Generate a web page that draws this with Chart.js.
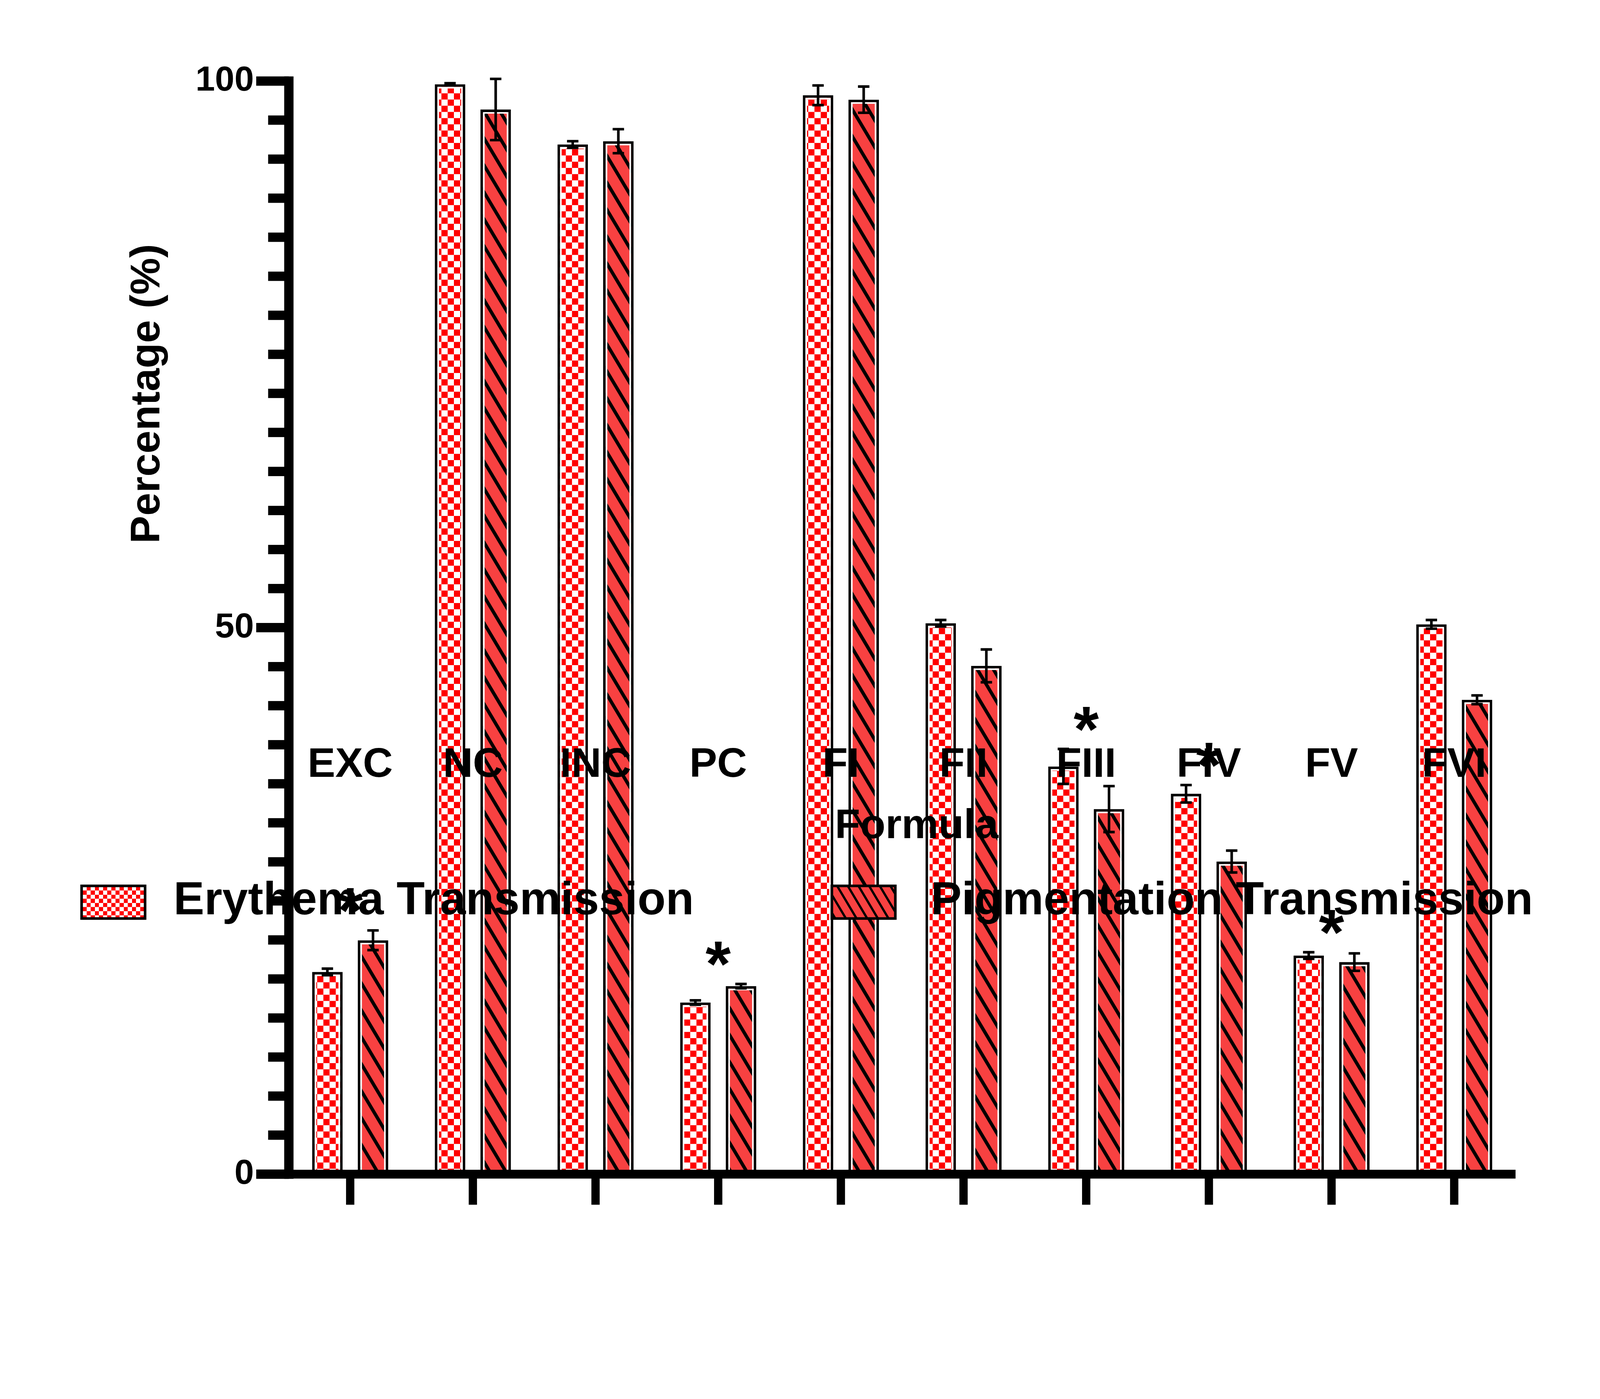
<!DOCTYPE html>
<html><head><meta charset="utf-8">
<script src="https://cdn.jsdelivr.net/npm/chart.js@4/dist/chart.umd.min.js"></script>
<style>html,body{margin:0;padding:0;background:#fff;overflow:hidden}</style>
</head><body><canvas id="c"></canvas>
<script>
const categories = ['EXC','NC','INC','PC','FI','FII','FIII','FIV','FV','FVI'];
const erythema = [18.5, 99.7, 94.2, 15.7, 98.7, 50.4, 37.3, 34.8, 20.0, 50.3];
const erythemaErr = [0.3, 0.1, 0.3, 0.2, 0.9, 0.3, 1.6, 0.8, 0.3, 0.4];
const pigmentation = [21.4, 97.4, 94.5, 17.2, 98.3, 46.5, 33.4, 28.6, 19.4, 43.4];
const pigmentationErr = [0.9, 2.8, 1.1, 0.2, 1.2, 1.5, 2.1, 1.0, 0.8, 0.4];
const significant = [true, false, false, true, false, false, true, true, true, false];
const yLabels = [0, 50, 100];
const seriesNames = ['Erythema Transmission', 'Pigmentation Transmission'];

const CW = window.innerWidth, CH = window.innerHeight;
const S = CW/6176;
const cv = document.getElementById('c');
cv.style.width = CW+'px'; cv.style.height = CH+'px';

const FONT = '"Liberation Sans", Arial, sans-serif';
function checker(){const c=document.createElement('canvas');c.width=48;c.height=48;const g=c.getContext('2d');
g.fillStyle='#fff';g.fillRect(0,0,48,48);g.fillStyle='#ff0000';g.fillRect(0,0,24,24);g.fillRect(24,24,24,24);
const p=g.createPattern(c,'repeat');p.setTransform(new DOMMatrix().scale(S));return p;}
function hatch(){const W=62,H=104;const c=document.createElement('canvas');c.width=W;c.height=H;const g=c.getContext('2d');
g.fillStyle='#f84141';g.fillRect(0,0,W,H);g.strokeStyle='#000';g.lineWidth=13;
for(const o of [-1,0,1]){g.beginPath();g.moveTo(o*W-W,-H);g.lineTo(o*W+2*W,2*H);g.stroke();}
const p=g.createPattern(c,'repeat');p.setTransform(new DOMMatrix().scale(S));return p;}
const P1=checker(), P2=hatch();

const deco={id:'deco',
afterDatasetsDraw(ch){const g=ch.ctx,ys=ch.scales.y,xs=ch.scales.x;g.save();g.scale(S,S);
 const Y=v=>ys.getPixelForValue(v)/S, X=i=>xs.getPixelForValue(i)/S;
 const aL=ch.chartArea.left/S, aR=ch.chartArea.right/S;
 [[0,erythemaErr],[1,pigmentationErr]].forEach(([di,err])=>{const m=ch.getDatasetMeta(di);
  m.data.forEach((b,i)=>{const w=b.width/S,bx=b.x/S,by=b.y/S,bb=b.base/S;g.strokeStyle='#fff';g.lineWidth=6;
   g.strokeRect(bx-w/2+13,by+13,w-26,bb-by-13);
   const v=ch.data.datasets[di].data[i],yt=Y(v+err[i]),yb=Y(v-err[i]);
   g.strokeStyle='#000';g.lineWidth=10;g.beginPath();g.moveTo(bx,yt);g.lineTo(bx,yb);
   g.moveTo(bx-22,yt);g.lineTo(bx+22,yt);g.moveTo(bx-22,yb);g.lineTo(bx+22,yb);g.stroke();});});
 g.fillStyle='#000';g.font='bold 250px '+FONT;g.textAlign='center';g.textBaseline='middle';
 significant.forEach((s,i)=>{if(!s)return;const top=Math.max(erythema[i]+erythemaErr[i],pigmentation[i]+pigmentationErr[i]);
  g.fillText('*',X(i),Y(top)-60);});
 const y0=Y(0),y100=Y(100);
 g.fillRect(aL-18,y100-18,36,y0-y100+36);
 g.fillRect(aL-95,y0-17,aR-aL+95,34);
 for(let k=0;k<=28;k++){const yy=Y(k*100/28);const major=(k%14===0);
  g.fillRect(aL-(major?126:80),yy-18,major?126:80,36);}
 g.font='bold 135px '+FONT;g.textAlign='right';g.textBaseline='middle';
 yLabels.forEach(v=>g.fillText(String(v),aL-135,Y(v)));
 g.font='bold 160px '+FONT;g.textAlign='center';
 categories.forEach((c,i)=>{const x=X(i);g.fillRect(x-16,y0,32,118);g.fillText(c,x,2955);});
 g.fillText('Formula',3538,3191);
 g.save();g.translate(571,1520);g.rotate(-Math.PI/2);g.fillText('Percentage (%)',0,0);g.restore();
 g.textAlign='left';g.font='bold 178px '+FONT;
 [[P1,315,670],[P2,3211,3593]].forEach(([p,bx,tx],i)=>{g.fillStyle=p;g.fillRect(bx,3420,245,126);
  g.strokeStyle='#000';g.lineWidth=10;g.strokeRect(bx,3420,245,126);g.fillStyle='#000';g.fillText(seriesNames[i],tx,3480);});
 g.restore();}};

new Chart(cv,{type:'bar',
data:{labels:categories,datasets:[
 {label:seriesNames[0],data:erythema,backgroundColor:P1,borderColor:'#000',borderWidth:10*S,borderSkipped:'bottom'},
 {label:seriesNames[1],data:pigmentation,backgroundColor:P2,borderColor:'#000',borderWidth:10*S,borderSkipped:'bottom'}]},
options:{responsive:false,animation:false,
 layout:{padding:{left:1115*S,right:326*S,top:313*S,bottom:868*S}},
 datasets:{bar:{categoryPercentage:0.744,barPercentage:0.667}},
 plugins:{legend:{display:false},tooltip:{enabled:false}},
 scales:{x:{display:false,offset:true},y:{display:false,min:0,max:100}}},
plugins:[deco]});
</script></body></html>
